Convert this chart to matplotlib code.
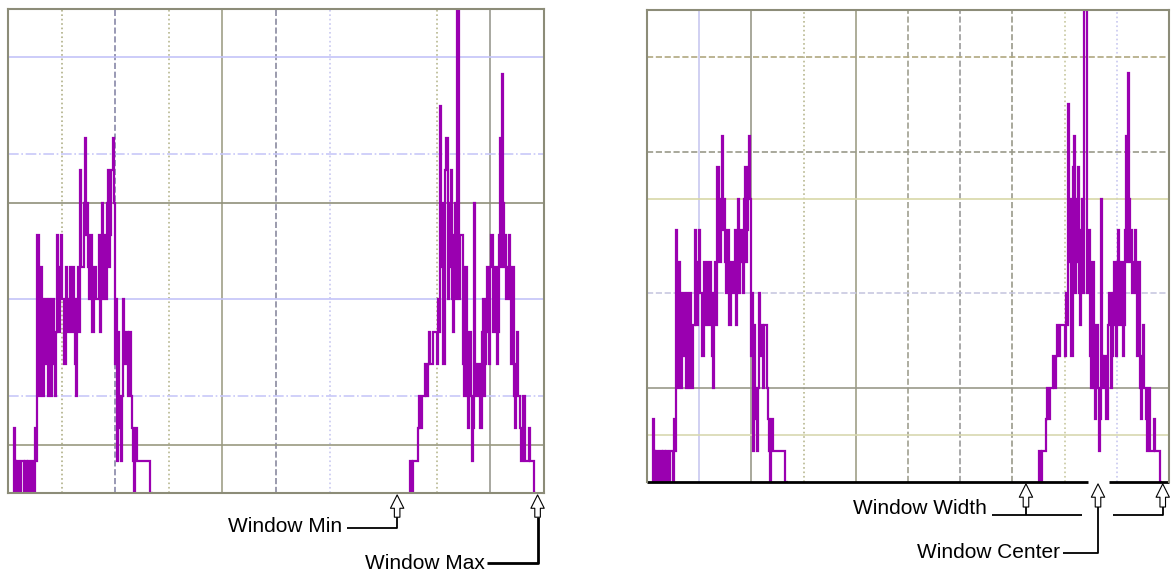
import numpy as np
import matplotlib.pyplot as plt

# histogram counts per grey-level bin
left_counts = [2, 1, 0, 1, 1, 0, 0, 1, 1, 0, 1, 1, 0, 1, 1, 0, 0, 1, 1, 0,
               2, 1, 8, 3, 3, 7, 6, 3, 4, 6, 6, 4, 3, 6, 5, 3, 6, 4, 3, 5,
               8, 5, 5, 7, 8, 6, 6, 4, 4, 7, 5, 6, 7, 5, 5, 7, 6, 4, 3, 6,
               7, 5, 10, 7, 7, 9, 11, 8, 9, 7, 6, 8, 8, 5, 5, 7, 7, 6, 6, 8,
               5, 7, 9, 6, 7, 8, 6, 9, 10, 7, 8, 10, 11, 9, 4, 6, 1, 5, 3, 2,
               1, 3, 6, 4, 4, 5, 3, 5, 5, 3, 2, 1, 0, 2, 2, 1, 1, 1, 1, 1,
               1, 1, 1, 1, 1, 1, 1, 0, 0, 0]
right_counts = [1, 1, 0, 1, 1, 1, 1, 2, 3, 2, 2, 3, 3, 3, 4, 3, 3, 4, 5, 4,
                4, 5, 5, 5, 5, 4, 6, 5, 12, 7, 9, 4, 4, 10, 11, 6, 7, 9, 10, 6,
                5, 8, 9, 6, 15, 15, 6, 8, 8, 4, 3, 7, 7, 3, 2, 5, 5, 3, 1, 2,
                9, 4, 3, 4, 4, 2, 2, 5, 6, 3, 4, 6, 7, 5, 4, 7, 8, 5, 5, 7,
                7, 4, 5, 8, 11, 7, 13, 9, 7, 8, 6, 7, 8, 6, 4, 7, 7, 3, 2, 4,
                5, 3, 3, 2, 1, 3, 3, 1, 1, 1, 1, 2, 1, 1, 1, 1, 0, 0]
left_start = 11
right_start = 750
bin_w = 2

# window markers (grey level)
win_min = 726
win_max = 988
win_center = 864

HIST = '#9a00b0'
plt.rcParams['font.family'] = ['Liberation Sans', 'DejaVu Sans']

fig = plt.figure(figsize=(11.72, 5.73), dpi=100)
ax1 = fig.add_axes([8/1172, 80/573, 536/1172, 484/573])
ax2 = fig.add_axes([647/1172, 91/573, 522/1172, 472/573])

grid1_v = [(100, '#b0b088', ':'), (200, '#8888a8', '--'), (300, '#b8b890', ':'),
           (400, '#a0a088', '-'), (500, '#8a8aa0', '--'), (600, '#c8c8f0', ':'),
           (800, '#b8b890', ':'), (900, '#9a9a90', '-')]
grid1_h = [(1.5, '#9a9a80', '-'), (3, '#c8c8f8', '-.'), (6, '#c4c4f8', '-'),
           (9, '#90907a', '-'), (10.5, '#c8c8f8', '-.'), (13.5, '#c4c4f8', '-')]
grid2_v = [(100, '#c8c8f0', '-'), (200, '#9a9a8a', '-'), (300, '#b8b890', ':'),
           (400, '#a0a088', '-'), (500, '#a0a090', '--'), (600, '#9a9a9a', '--'),
           (700, '#9a9a8a', '--'), (800, '#c8c8a0', ':'), (900, '#c8c8f0', ':')]
grid2_h = [(1.5, '#d8d8b0', '-'), (3, '#9a9a8a', '-'), (6, '#c8c8e0', '--'),
           (9, '#d8d8a8', '-'), (10.5, '#9a9a8a', '--'), (13.5, '#b0a880', '--')]

for ax, gv, gh in [(ax1, grid1_v, grid1_h), (ax2, grid2_v, grid2_h)]:
    for x, c, ls in gv:
        ax.axvline(x, color=c, ls=ls, lw=1.2, zorder=1)
    for y, c, ls in gh:
        ax.axhline(y, color=c, ls=ls, lw=1.2, zorder=1)
    le = left_start + bin_w * np.arange(len(left_counts) + 1)
    re = right_start + bin_w * np.arange(len(right_counts) + 1)
    ax.stairs(left_counts, le, color=HIST, lw=1.6, zorder=2)
    ax.stairs(right_counts, re, color=HIST, lw=1.6, zorder=2)
    ax.set_xlim(0, 1000)
    ax.set_ylim(0, 15)
    ax.set_xticks([])
    ax.set_yticks([])
    for s in ax.spines.values():
        s.set_color('#8c8c78')
        s.set_linewidth(1.5)
        s.set_zorder(3)


def arrow(ax, x, y_tip, y_base):
    ax.annotate('', xy=(x, y_tip), xytext=(x, y_base),
                xycoords=ax.get_xaxis_transform(),
                arrowprops=dict(arrowstyle='simple,head_length=0.6,head_width=0.6,tail_width=0.25',
                                mutation_scale=16, fc='white', ec='black', lw=0.8,
                                shrinkA=0, shrinkB=0))


def line(ax, xs, ys, lw=1.3):
    ax.plot(xs, ys, color='black', lw=lw, transform=ax.get_xaxis_transform(),
            clip_on=False, solid_capstyle='butt')


# left panel: window min / max
arrow(ax1, win_min, -0.004, -0.05)
arrow(ax1, win_max, -0.004, -0.05)
line(ax1, [632, win_min, win_min], [-0.072, -0.072, -0.05])
line(ax1, [894, win_max, win_max], [-0.145, -0.145, -0.05], lw=2)
ax1.text(623, -0.07, 'Window Min', transform=ax1.get_xaxis_transform(),
         ha='right', va='center', fontsize=15)
ax1.text(890, -0.145, 'Window Max', transform=ax1.get_xaxis_transform(),
         ha='right', va='center', fontsize=15)

# right panel: thick baseline with a gap at the window center
ax2.spines['bottom'].set_visible(False)
line(ax2, [0, 845], [0, 0], lw=2)
line(ax2, [885, 1000], [0, 0], lw=2)
arrow(ax2, win_min, -0.004, -0.053)
arrow(ax2, win_center, -0.004, -0.053)
arrow(ax2, win_max, -0.004, -0.053)
line(ax2, [661, 833], [-0.07, -0.07])
line(ax2, [win_min, win_min], [-0.07, -0.053])
line(ax2, [893, win_max, win_max], [-0.07, -0.07, -0.053])
line(ax2, [797, win_center, win_center], [-0.15, -0.15, -0.053])
ax2.text(651, -0.057, 'Window Width', transform=ax2.get_xaxis_transform(),
         ha='right', va='center', fontsize=15)
ax2.text(791, -0.15, 'Window Center', transform=ax2.get_xaxis_transform(),
         ha='right', va='center', fontsize=15)

fig.savefig('out.png', dpi=100, facecolor='white')
